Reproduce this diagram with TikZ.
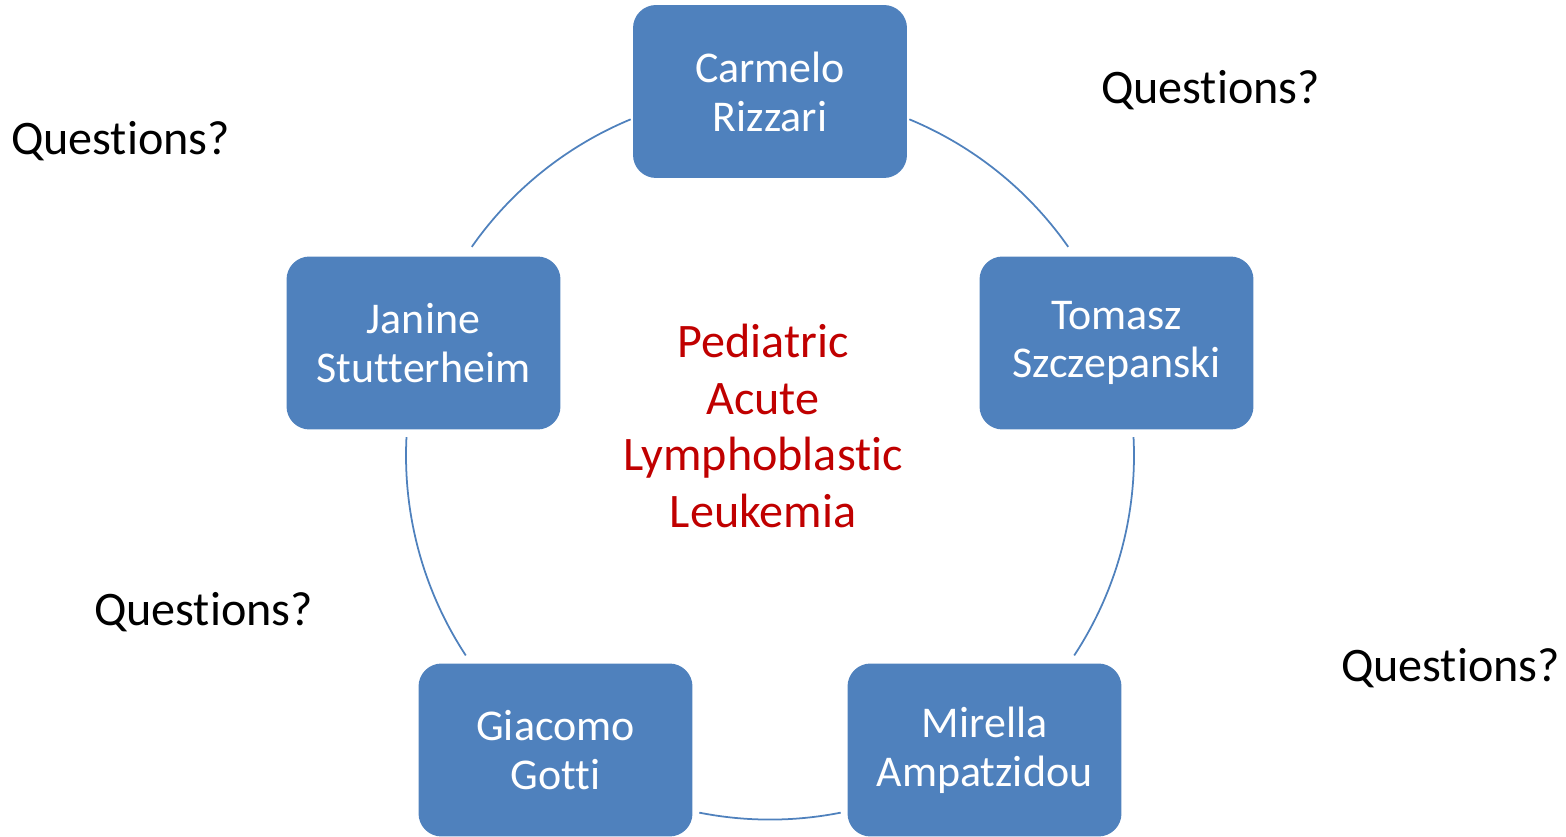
\documentclass[tikz,border=0pt]{standalone}
\usepackage{fontspec}
\setmainfont[Ligatures=NoCommon]{Carlito}
\usetikzlibrary{positioning}
\definecolor{boxblue}{HTML}{4F81BD}
\definecolor{darkred}{HTML}{C00000}

\begin{document}
\begin{tikzpicture}[x=0.02cm, y=0.02cm,
  person/.style={fill = boxblue, rounded corners = 0.46cm, minimum width = 5.48cm, minimum height = 3.46cm, align = center, text = white, inner sep = 0pt, font = \fontsize{25}{27.8}\selectfont},
  ask/.style={font = \fontsize{27.4}{30}\selectfont, inner sep = 0pt},
  ring/.style={draw = boxblue, line width = 1pt}]

\useasboundingbox (0,0) rectangle (1566,-837);

\coordinate (hub) at (770,-455.6);

\node (carmelo) at (770,-91.5) [person] {Carmelo\\Rizzari};
\node (tomasz) at (1116.5,-343) [person] {Tomasz\\Szczepanski};
\node (mirella) at (984.5,-750) [person] {Mirella\\Ampatzidou};
\node (giacomo) at (555.5,-750) [person] {Giacomo\\Gotti};
\node (janine) at (423.5,-343) [person] {Janine\\Stutterheim};

\node (topic) at (763,-426) [align = center, text = darkred, font = \fontsize{27.4}{32.3}\selectfont] {Pediatric\\Acute\\Lymphoblastic\\Leukemia};

\foreach \a/\b in {67.5/35, 2.9/-33.3, -78.8/-101.2, -146.7/-182.9, 145/112.5}
  \draw [ring] (hub) ++(\a:364) arc [start angle = \a, end angle = \b, radius = 364];

\node (q1) at (120.5,-141) [ask] {Questions?};
\node (q2) at (1210.5,-90) [ask] {Questions?};
\node (q3) at (203.5,-612) [ask] {Questions?};
\node (q4) at (1450.5,-668) [ask] {Questions?};

\end{tikzpicture}
\end{document}
